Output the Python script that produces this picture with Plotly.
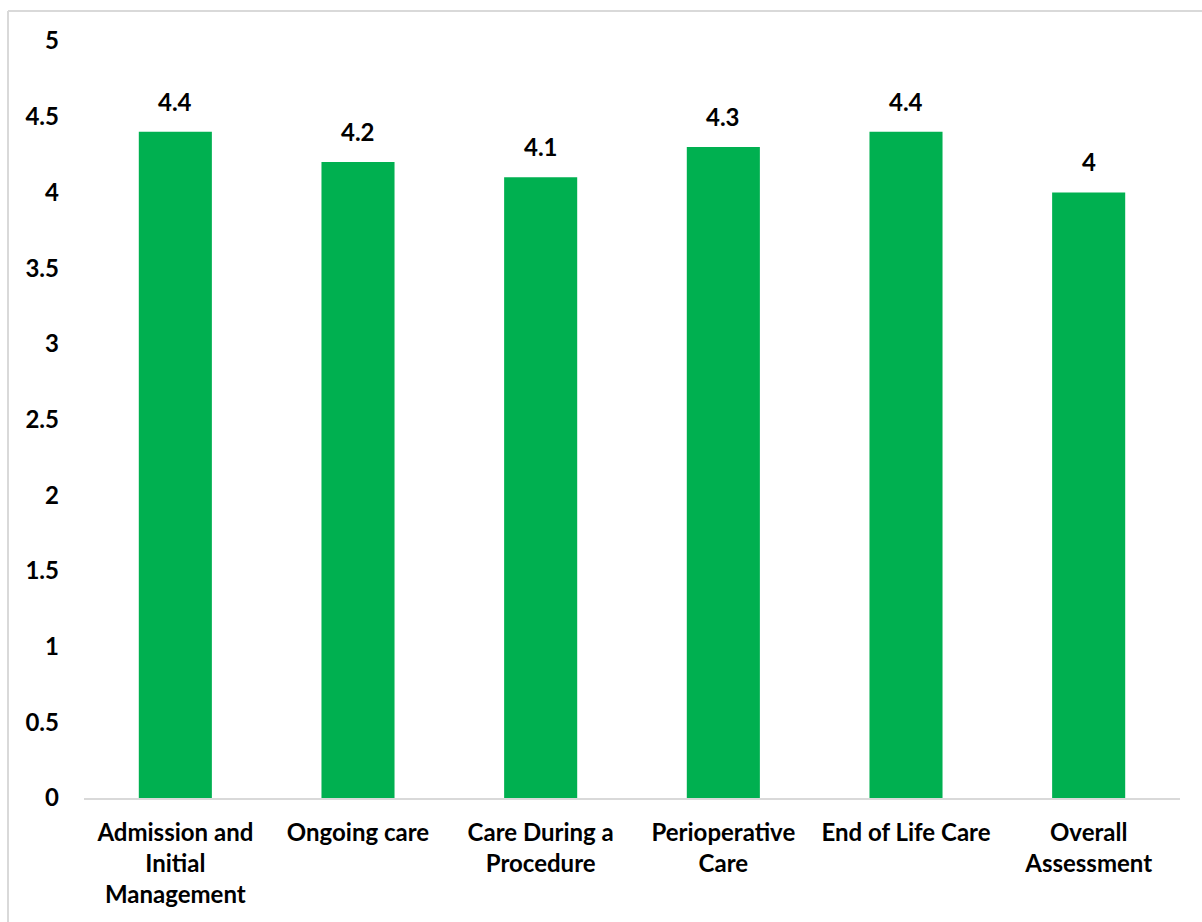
import plotly.graph_objects as go

# Average assessment scores by care phase
categories = [
    "Admission and<br>Initial<br>Management",
    "Ongoing care",
    "Care During a<br>Procedure",
    "Perioperative<br>Care",
    "End of Life Care",
    "Overall<br>Assessment",
]
scores = [4.4, 4.2, 4.1, 4.3, 4.4, 4.0]
y_ticks = [0, 0.5, 1, 1.5, 2, 2.5, 3, 3.5, 4, 4.5, 5]

W, H = 1202, 922
L, R, T, B = 84, 22, 41, 124
FONT = "Lato"
FS = 24
BAR_GREEN = "#00B050"

fig = go.Figure(
    go.Bar(
        x=categories,
        y=scores,
        marker=dict(color=BAR_GREEN, line=dict(width=0)),
        hoverinfo="x+y",
    )
)

# value labels above each bar
for c, v in zip(categories, scores):
    fig.add_annotation(
        x=c, y=v, text=f"<b>{v:g}</b>", showarrow=False,
        yanchor="bottom", yshift=14,
        font=dict(family=FONT, size=FS, color="#000000"),
    )

# outer frame (top and left edges)
pw, ph = W - L - R, H - T - B
x_left = (8 - L) / pw
y_top = (ph + T - 11) / ph
fig.add_shape(type="line", xref="paper", yref="paper",
              x0=x_left, x1=x_left, y0=-2, y1=y_top,
              line=dict(color="#d9d9d9", width=2))
fig.add_shape(type="line", xref="paper", yref="paper",
              x0=x_left, x1=2, y0=y_top, y1=y_top,
              line=dict(color="#d9d9d9", width=2))

fig.update_layout(
    width=W, height=H,
    margin=dict(l=L, r=R, t=T, b=B, pad=0),
    paper_bgcolor="white", plot_bgcolor="white",
    bargap=0.6,
    showlegend=False,
    font=dict(family=FONT, size=FS, color="#000000"),
)
fig.update_xaxes(
    showline=True, linecolor="#d9d9d9", linewidth=2,
    showgrid=False, ticks="", tickfont=dict(family=FONT, size=FS, weight="bold"),
    ticklabelstandoff=12,
)
fig.update_yaxes(
    range=[0, 5], tickvals=y_ticks, ticktext=[f"{t:g}" for t in y_ticks],
    showgrid=False, showline=False, zeroline=False, ticks="",
    tickfont=dict(family=FONT, size=FS, weight="bold"),
    ticklabelstandoff=24,
)

fig.write_html("out.html")
